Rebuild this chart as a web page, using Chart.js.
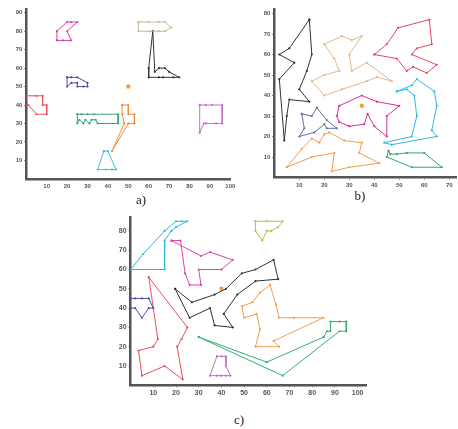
<!DOCTYPE html>
<html><head><meta charset="utf-8">
<script src="https://cdn.jsdelivr.net/npm/chart.js@4"></script>
<style>
html,body{margin:0;padding:0;background:#fff;width:458px;height:429px;overflow:hidden;position:relative}
canvas{position:absolute}
.lbl{position:absolute;font-family:"Liberation Serif","DejaVu Serif",serif;font-size:13px;color:#222;transform:translate(-50%,-50%)}
</style></head><body>
<canvas id="ca" width="240" height="195" style="left:0;top:0"></canvas>
<canvas id="cb" width="218" height="195" style="left:240px;top:0"></canvas>
<canvas id="cc" width="280" height="190" style="left:95px;top:210px"></canvas>
<div class="lbl" style="left:141px;top:200px">a)</div>
<div class="lbl" style="left:360px;top:196px">b)</div>
<div class="lbl" style="left:239px;top:420px">c)</div>
<script>
// ---- chart a) ----
const aRed = [[0,45],[5,45],[8,45],[8,40],[10,40],[10,35],[5,35],[1,40],[0,40]];
const aMagenta = [[15,80],[20,85],[22,85],[25,85],[20,80],[22,75],[18,75],[15,75],[15,80]];
const aNavy = [[20,55],[22,55],[25,55],[30,52],[30,50],[28,50],[25,50],[25,52],[22,52],[20,50],[20,55]];
const aTan = [[55,85],[60,85],[65,85],[68,85],[71,82],[68,80],[65,80],[60,80],[55,80],[55,85]];
const aBlack = [[62,80],[60,60],[60,55],[65,55],[67,55],[72,55],[75,55],[70,58],[68,60],[65,60],[63,58],[62,80]];
const aOrange = [[47,40],[50,40],[50,35],[53,35],[53,30],[50,30],[42,15],[48,30],[47,35],[47,40]];
const aDot = [[50,50]];
const aCyan = [[38,15],[40,15],[44,5],[42,5],[39,5],[35,5],[38,15]];
const aGreen = [[25,35],[27,35],[30,35],[33,35],[45,35],[45,30],[35,30],[34,32],[32,32],[31,30],[29,32],[28,30],[26,32],[25,30],[25,35]];
const aViolet = [[85,40],[88,40],[91,40],[96,40],[96,30],[93,30],[88,30],[87,30],[85,25],[85,40]];
// ---- chart b) ----
const bBlack = [[14,77],[6,63],[2,60],[8,56],[2,48],[4,18],[5,30],[6,38],[14,37],[10,43],[13,52],[15,60],[14,77]];
const bTan = [[20,65],[27,69],[31,67],[35,69],[30,60],[31,52],[37,56],[47,47],[41,49],[37,47],[27,43],[20,40],[15,47],[20,50],[26,52],[24,58],[20,65]];
const bRed = [[40,60],[45,65],[49.5,73],[62,77],[63,65],[57,63],[55,60],[65,55],[61,51],[55.5,54],[53,52],[49,58],[40,60]];
const bMagenta = [[26,35],[25,30],[26,27],[30,25],[36,26],[37.3,31],[40,25],[45,20],[45,30],[50,35],[41,37],[35,40],[26,35]];
const bDot = [[35,35]];
const bNavy = [[11,31],[15,30],[17,34],[21,28],[25,24],[21,24],[20,26],[16,22],[10,20],[12,24],[11,31]];
const bOrange = [[5,5],[11,14],[15,19],[18,17],[20,21],[22,22],[28,18],[35,17],[34,12],[42,7],[30,5],[23,3],[24,12],[15,10],[5,5]];
const bCyan = [[49,42],[55,45],[57,48],[64,42],[65,35],[63,23],[65,20],[47,16],[44,17],[55,20],[57,30],[56,40],[53,43],[49,42]];
const bGreen = [[45.7,13],[46.4,11.4],[49,11.4],[53,12],[60,12],[67,5],[55,5],[45,10],[45.7,13]];
// ---- chart c) ----
const cCyan = [[0,60],[5.5,68],[15,80],[20,85],[22.5,85],[25,85],[20,82],[18,80],[15,75],[15,60],[0,60]];
const cMagenta = [[18,75],[22,75],[24,58],[26,52],[31,52],[30,60],[40,60],[45,65],[35,69],[31,67],[18,75]];
const cLime = [[55,85],[60,85],[67,85],[65,82],[62,80],[60,80],[58,75],[55,80],[55,85]];
const cNavy = [[0,45],[2,45],[5,45],[8,45],[10,40],[8,40],[5,35],[2,40],[0,40],[0,45]];
const cRed = [[8,56],[25,30],[22.5,24],[20.5,20],[23,3],[15,10],[5,5],[3.5,18],[10,20],[12,24],[8,56]];
const cBlack = [[19.6,50],[27,43],[37,47],[42,50],[49,58],[55,60],[63,65],[65,55],[55,54],[47,47],[41,37],[45,30],[37,31],[35,40],[26,35],[19.6,50]];
const cDot = [[40,50]];
const cOrange = [[61.4,52],[57,48],[53.7,43],[49,41],[50,35],[55.5,37],[57,29],[55,20],[65.4,20],[63,23],[85,35],[72,35],[65.4,35],[64,42],[61.4,52]];
const cGreen = [[30,25],[60,12],[85,25],[86.5,28],[88,28],[88,33],[92,33],[95,33],[95,28],[92,28],[67,5],[30,25]];
const cViolet = [[38,15],[40,15],[42,15],[42,10],[44,5],[42,5],[40,5],[38,5],[35,5],[38,15]];

function ds(pts, color, dot){
  return {data: pts.map(p=>({x:p[0],y:p[1]})), showLine: !dot, borderColor: color, backgroundColor: color,
    borderWidth: 1, pointRadius: dot ? 2.2 : 1.1, pointBorderWidth: 0, tension: 0};
}
function axis(min, max, fontSize, size, isX){
  return {
    type:'linear', min:min, max:max,
    afterBuildTicks: s => {
      const out = [];
      for (let v = 10; v <= max + 1e-6; v += 10) out.push({value: v});
      s.ticks = out;
    },
    afterFit: s => { if (isX) s.height = size; else s.width = size; },
    grid:{drawOnChartArea:false, drawTicks:true, tickLength:2, color:'#666'},
    border:{display:true, width:2.5, color:'#555'},
    ticks:{stepSize:10, autoSkip:false, maxRotation:0, padding:2, color:'#555',
      callback: v => String(Math.round(v)),
      font:{family:'"Liberation Sans", Arial, sans-serif', size:fontSize, weight:'bold'}}
  };
}
function make(id, datasets, xr, yr, fs, yW, xH, pad){
  new Chart(document.getElementById(id), {
    type:'scatter',
    data:{datasets:datasets},
    options:{
      responsive:false, animation:false, events:[],
      layout:{autoPadding:false, padding:pad},
      plugins:{legend:{display:false}, tooltip:{enabled:false}},
      scales:{ x: axis(xr[0], xr[1], fs, xH, true), y: axis(yr[0], yr[1], fs, yW, false) }
    }
  });
}
make('ca', [
  ds(aRed,'#e8505b'), ds(aMagenta,'#e040a0'), ds(aNavy,'#50509a'), ds(aTan,'#c9b896'),
  ds(aBlack,'#333333'), ds(aOrange,'#f08a3c'), ds(aDot,'#f0a040',true), ds(aCyan,'#40c0e0'),
  ds(aGreen,'#30a878'), ds(aViolet,'#c070c8')
], [0,100], [0,92], 6, 26.3, 16.2, {top:9.1, right:9.7, left:0, bottom:0});
make('cb', [
  ds(bBlack,'#333333'), ds(bTan,'#e0b890'), ds(bRed,'#e04a60'), ds(bMagenta,'#d63090'),
  ds(bDot,'#f0a040',true), ds(bNavy,'#6070a0'), ds(bOrange,'#f0a050'), ds(bCyan,'#30b8e0'),
  ds(bGreen,'#30a870')
], [0,73], [0,82], 6, 34.3, 17.5, {top:9.4, right:1.2, left:0, bottom:0});
make('cc', [
  ds(cCyan,'#30b8e0'), ds(cMagenta,'#e040a0'), ds(cLime,'#a8c840'), ds(cNavy,'#5050a8'),
  ds(cRed,'#e85060'), ds(cBlack,'#333333'), ds(cDot,'#f0a040',true), ds(cOrange,'#f0a050'),
  ds(cGreen,'#30b070'), ds(cViolet,'#c070c0')
], [0,104], [0,87], 7, 35.6, 14.7, {top:7.4, right:8.3, left:0, bottom:0});
</script>
</body></html>
